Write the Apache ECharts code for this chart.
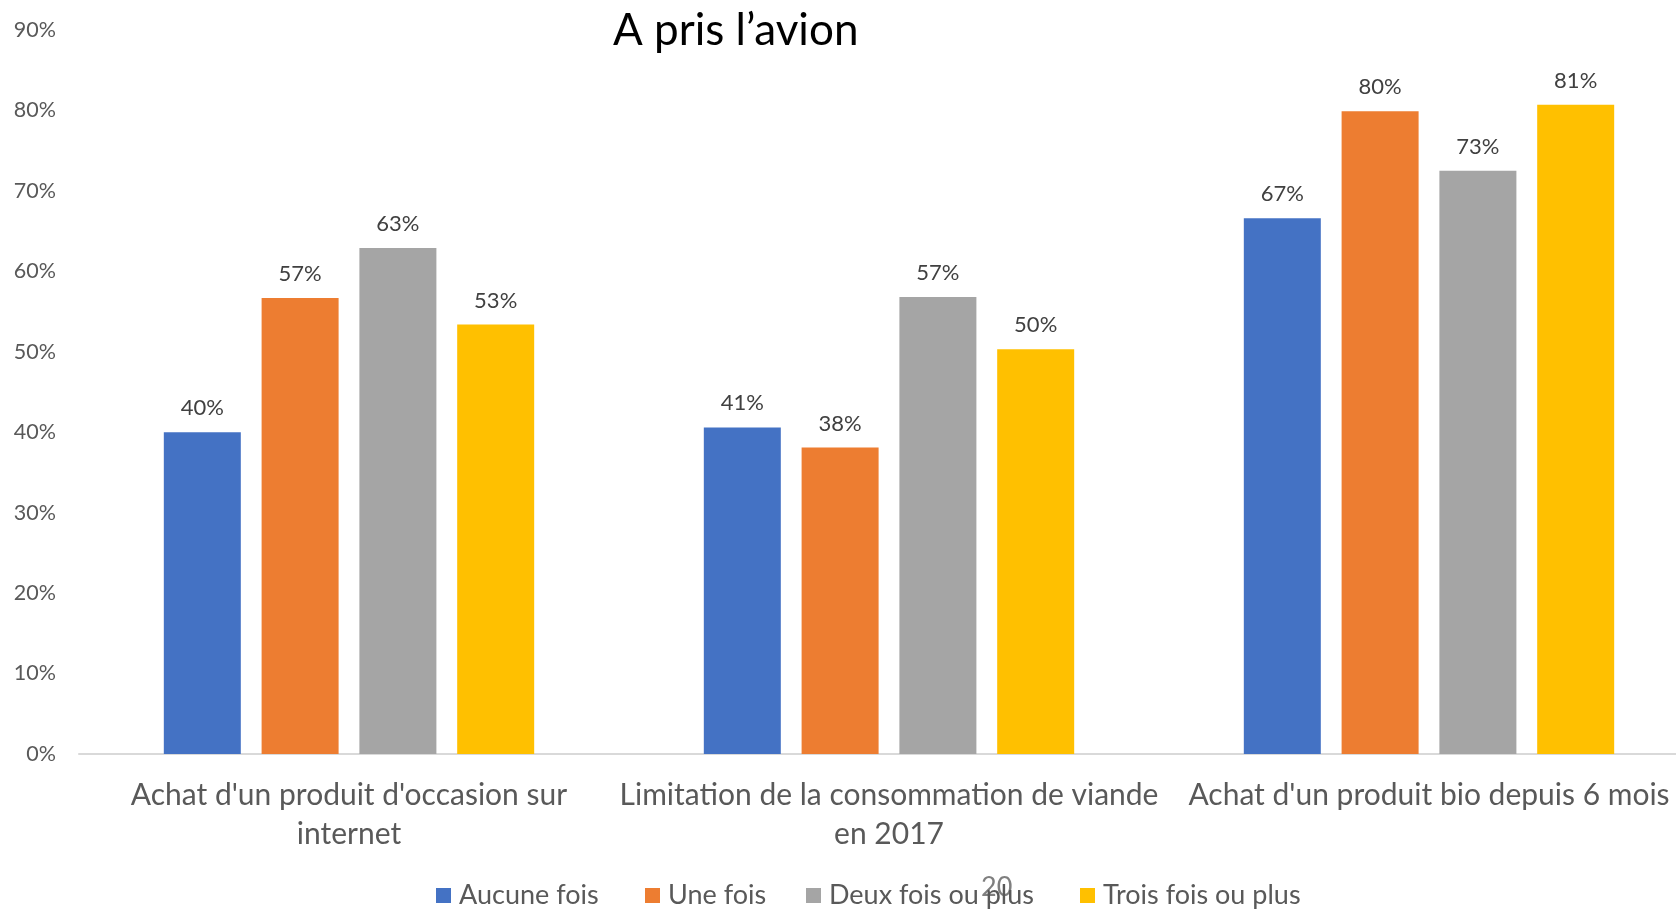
<!DOCTYPE html>
<html>
<head>
<meta charset="utf-8">
<script src="https://cdn.jsdelivr.net/npm/echarts@6/dist/echarts.min.js"></script>
<style>
html,body{margin:0;padding:0;background:#fff;}
#chart{width:1676px;height:910px;}
</style>
</head>
<body>
<div id="chart"></div>
<script>
var titleText = 'A pris l’avion';
var categories = [
  "Achat d'un produit d'occasion sur\ninternet",
  "Limitation de la consommation de viande\nen 2017",
  "Achat d'un produit bio depuis 6 mois"
];
var seriesNames = ['Aucune fois', 'Une fois', 'Deux fois ou plus', 'Trois fois ou plus'];
var aucuneFois = [40.0, 40.6, 66.6];
var uneFois = [56.7, 38.1, 79.9];
var deuxFois = [62.9, 56.8, 72.5];
var troisFois = [53.4, 50.3, 80.7];
var yTicks = [0, 10, 20, 30, 40, 50, 60, 70, 80, 90];
var pageNumber = '20';

var colors = ['#4472C4', '#ED7D31', '#A5A5A5', '#FFC000'];
var FONT = 'Lato, "Open Sans", sans-serif';
var values = [aucuneFois, uneFois, deuxFois, troisFois];
var legendLefts = [436, 645, 806, 1080];

var chart = echarts.init(document.getElementById('chart'), null, {renderer: 'canvas'});

var series = seriesNames.map(function (name, i) {
  return {
    name: name,
    type: 'bar',
    data: values[i],
    barWidth: 77,
    barGap: '27%',
    itemStyle: {color: colors[i]},
    label: {
      show: true,
      position: 'top',
      distance: 13,
      color: '#404040',
      fontFamily: FONT,
      fontSize: 22,
      formatter: function (p) { return Math.round(p.value) + '%'; }
    }
  };
});

var legends = seriesNames.map(function (name, i) {
  return {
    data: [name],
    left: legendLefts[i],
    top: 882,
    padding: 0,
    icon: 'rect',
    itemWidth: 15,
    itemHeight: 15,
    textStyle: {fontFamily: FONT, fontSize: 27, color: '#595959', padding: [0, 0, 0, 3]}
  };
});

chart.setOption({
  animation: false,
  backgroundColor: '#ffffff',
  color: colors,
  title: {
    text: titleText,
    left: 608,
    top: 4,
    textStyle: {fontFamily: FONT, fontSize: 44, fontWeight: 'normal', color: '#000000'}
  },
  grid: {left: 79, width: 1620, top: 30, bottom: 156, containLabel: false, outerBoundsMode: 'none'},
  legend: legends,
  xAxis: {
    type: 'category',
    data: categories,
    axisLine: {show: true, lineStyle: {color: '#D9D9D9', width: 2}},
    axisTick: {show: false},
    axisLabel: {
      fontFamily: FONT,
      fontSize: 30,
      color: '#595959',
      margin: 22,
      lineHeight: 39,
      interval: 0
    }
  },
  yAxis: {
    type: 'value',
    min: yTicks[0],
    max: yTicks[yTicks.length - 1],
    interval: yTicks[1] - yTicks[0],
    splitLine: {show: false},
    axisLine: {show: false},
    axisTick: {show: false},
    axisLabel: {
      fontFamily: FONT,
      fontSize: 21.5,
      color: '#595959',
      margin: 23,
      formatter: function (v) { return v + '%'; }
    }
  },
  graphic: [{
    type: 'text',
    left: 981,
    top: 874,
    style: {text: pageNumber, font: '27px ' + FONT, fill: '#7F7F7F'}
  }],
  series: series
});
</script>
</body>
</html>
